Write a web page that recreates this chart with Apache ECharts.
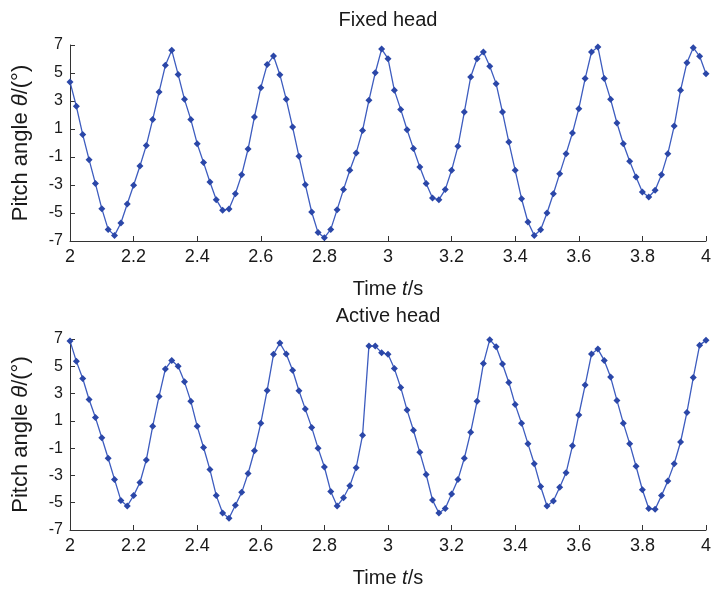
<!DOCTYPE html>
<html>
<head>
<meta charset="utf-8">
<script src="https://cdn.jsdelivr.net/npm/echarts@6/dist/echarts.min.js"></script>
<style>
  html, body { margin: 0; padding: 0; background: #fff; }
  #chart { width: 714px; height: 589px; }
</style>
</head>
<body>
<div id="chart"></div>
<script>
// Sample times: 2 s to 4 s in 0.02 s steps
const timeStart = 2;
const timeStep = 0.02;

// Pitch angle (deg), fixed head
const fixedHead = [
  4.36, 2.62, 0.60, -1.19, -2.90, -4.69, -6.17, -6.60, -5.71, -4.36,
  -3.02, -1.64, -0.17, 1.67, 3.64, 5.55, 6.62, 4.90, 3.12, 1.67,
  -0.05, -1.40, -2.79, -4.05, -4.81, -4.71, -3.62, -2.26, -0.43, 1.86,
  3.95, 5.60, 6.21, 4.88, 3.12, 1.14, -0.95, -2.98, -4.93, -6.40,
  -6.76, -6.17, -4.76, -3.33, -1.95, -0.71, 0.90, 3.05, 5.02, 6.71,
  6.02, 3.76, 2.40, 0.95, -0.40, -1.71, -2.90, -3.93, -4.05, -3.33,
  -1.95, -0.24, 2.21, 4.71, 6.02, 6.50, 5.48, 4.24, 2.21, 0.07,
  -1.95, -3.98, -5.64, -6.60, -6.19, -5.00, -3.62, -2.19, -0.76, 0.71,
  2.45, 4.60, 6.50, 6.86, 4.60, 3.12, 1.43, -0.05, -1.31, -2.43,
  -3.50, -3.86, -3.38, -2.26, -0.76, 1.21, 3.76, 5.74, 6.81, 6.19,
  4.95
];

// Pitch angle (deg), active head
const activeHead = [
  6.86, 5.36, 4.10, 2.57, 1.24, -0.24, -1.74, -3.29, -4.83, -5.24,
  -4.48, -3.52, -1.86, 0.60, 2.79, 4.81, 5.43, 5.00, 3.86, 2.43,
  0.60, -0.95, -2.57, -4.48, -5.76, -6.14, -5.19, -4.24, -2.86, -1.19,
  0.83, 3.23, 5.88, 6.70, 5.90, 4.71, 3.21, 1.86, 0.52, -1.00,
  -2.38, -4.17, -5.24, -4.64, -3.76, -2.43, -0.05, 6.48, 6.48, 6.00,
  5.88, 4.83, 3.45, 1.79, 0.31, -1.31, -2.93, -4.81, -5.76, -5.43,
  -4.36, -3.29, -1.74, 0.17, 2.43, 5.20, 6.95, 6.43, 5.17, 3.81,
  2.19, 0.83, -0.67, -2.14, -3.81, -5.24, -4.88, -3.86, -2.81, -0.83,
  1.43, 3.62, 5.90, 6.26, 5.43, 4.21, 2.50, 0.83, -0.67, -2.33,
  -4.05, -5.43, -5.48, -4.48, -3.40, -2.14, -0.55, 1.62, 4.17, 6.55,
  6.90
];

const yTicks = [-7, -5, -3, -1, 1, 3, 5, 7];
const panelTitles = ['Fixed head', 'Active head'];

function toPairs(values) {
  return values.map((v, i) => [+(timeStart + i * timeStep).toFixed(2), v]);
}

const FONT = '"Liberation Sans", Arial, sans-serif';
const TEXT = '#1a1a1a';
const AXIS = '#333333';

function xAxisFor(gridIndex) {
  return {
    gridIndex,
    type: 'value',
    min: 2, max: 4, interval: 0.2,
    axisLine: { show: true, onZero: false, lineStyle: { color: AXIS, width: 1 } },
    axisTick: { show: true, inside: true, length: 5, lineStyle: { color: AXIS } },
    splitLine: { show: false },
    axisLabel: { color: TEXT, fontFamily: FONT, fontSize: 18, margin: 7,
                 formatter: v => String(+v.toFixed(1)) },
    name: '{n|Time }{i|t}{n|/s}',
    nameLocation: 'middle',
    nameGap: 38,
    nameTextStyle: {
      rich: {
        n: { fontFamily: FONT, fontSize: 20, color: TEXT },
        i: { fontFamily: FONT, fontSize: 20, color: TEXT, fontStyle: 'italic' }
      }
    }
  };
}

function yAxisFor(gridIndex) {
  return {
    gridIndex,
    type: 'value',
    min: -7, max: 7,
    axisLine: { show: true, onZero: false, lineStyle: { color: AXIS, width: 1 } },
    axisTick: { show: true, inside: true, length: 5, customValues: yTicks, lineStyle: { color: AXIS } },
    splitLine: { show: false },
    axisLabel: { color: TEXT, fontFamily: FONT, fontSize: 16, margin: 7, customValues: yTicks },
    name: '{n|Pitch angle }{i|θ}{n|/(°)}',
    nameLocation: 'middle',
    nameGap: 38,
    nameRotate: 90,
    nameTextStyle: {
      rich: {
        n: { fontFamily: FONT, fontSize: 22, color: TEXT },
        i: { fontFamily: FONT, fontSize: 22, color: TEXT, fontStyle: 'italic' }
      }
    }
  };
}

function seriesFor(index, values) {
  return {
    type: 'line',
    xAxisIndex: index,
    yAxisIndex: index,
    data: toPairs(values),
    symbol: 'diamond',
    symbolSize: 7,
    showAllSymbol: true,
    clip: false,
    lineStyle: { color: '#3d5cbf', width: 1.3 },
    itemStyle: { color: '#2b47a8', borderWidth: 0 },
    animation: false
  };
}

const chart = echarts.init(document.getElementById('chart'), null, { renderer: 'canvas' });
chart.setOption({
  backgroundColor: '#ffffff',
  animation: false,
  title: panelTitles.map((t, i) => ({
    text: t,
    left: 383,
    top: i === 0 ? 5 : 301,
    textAlign: 'center',
    textStyle: { fontFamily: FONT, fontSize: 20, fontWeight: 'normal', color: TEXT }
  })),
  grid: [
    { left: 70, right: 3, top: 45, height: 196 },
    { left: 70, right: 3, top: 339, height: 196 }
  ],
  xAxis: [xAxisFor(0), xAxisFor(1)],
  yAxis: [yAxisFor(0), yAxisFor(1)],
  series: [seriesFor(0, fixedHead), seriesFor(1, activeHead)]
});
</script>
</body>
</html>
